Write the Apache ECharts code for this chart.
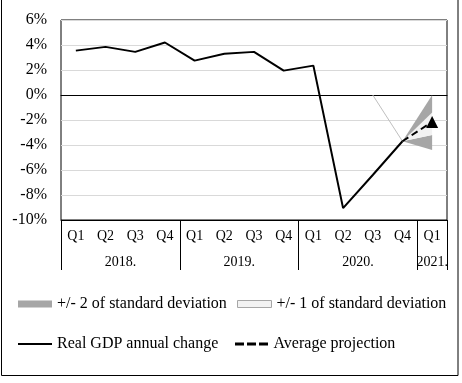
<!DOCTYPE html>
<html>
<head>
<meta charset="utf-8">
<script src="https://cdn.jsdelivr.net/npm/echarts@6/dist/echarts.min.js"></script>
<style>
html,body{margin:0;padding:0;background:#fff;}
#chart{width:462px;height:383px;}
</style>
</head>
<body>
<div id="chart"></div>
<script>
// ---- data ----
var quarters = ['Q1','Q2','Q3','Q4','Q1','Q2','Q3','Q4','Q1','Q2','Q3','Q4','Q1'];
var yearSlots = ['','','','','2018.','','','','','','','','2019.','','','','','','','','2020.','','','','','2021.',''];
var yearBreaks = [0, 8, 16, 24, 26];
var yTicks = [-10, -8, -6, -4, -2, 0, 2, 4, 6];

var gdp        = [3.55, 3.85, 3.45, 4.2, 2.75, 3.3, 3.45, 1.95, 2.35, -9.05, -6.4, -3.7, null];
var projection = [null, null, null, null, null, null, null, null, null, null, null, -3.7, -2.15];
var guideLine  = [null, null, null, null, null, null, null, null, null, null, 0, -3.7, null];
// fan boundaries
var lower2 = [null, null, null, null, null, null, null, null, null, null, null, -3.7, -4.4];
var lower1 = [null, null, null, null, null, null, null, null, null, null, null, -3.7, -3.2];
var upper1 = [null, null, null, null, null, null, null, null, null, null, null, -3.7, -1.4];
var upper2 = [null, null, null, null, null, null, null, null, null, null, null, -3.7, 0];

function diff(a, b) {
  return a.map(function (v, i) { return (v == null || b[i] == null) ? null : +(v - b[i]).toFixed(4); });
}

var FONT = 'Liberation Serif';
var NAME2 = '+/- 2 of standard deviation';
var NAME1 = '+/- 1 of standard deviation';
var NAMEG = 'Real GDP annual change';
var NAMEP = 'Average projection';
var DARK = '#a6a6a6', LIGHT = '#f2f2f2';

var chart = echarts.init(document.getElementById('chart'));
var legendText = {fontFamily: FONT, fontSize: 16, color: '#000'};
function leg(name, left, top, h, extra) {
  var d = {name: name};
  if (extra) for (var k in extra) d[k] = extra[k];
  return {left: left, top: top, padding: 0, itemWidth: 34, itemHeight: h, itemGap: 0,
          textStyle: legendText, data: [d], selectedMode: false};
}
chart.setOption({
  animation: false,
  backgroundColor: '#fff',
  graphic: [{type: 'rect', shape: {x: 1.5, y: -1, width: 456.5, height: 376.5},
             style: {fill: 'none', stroke: '#000', lineWidth: 1}, silent: true}],
  legend: [
    leg(NAME2, 18, 296, 7, {icon: 'rect', itemStyle: {color: DARK}}),
    leg(NAME1, 237, 296, 7, {icon: 'rect', itemStyle: {color: LIGHT, borderColor: '#a6a6a6', borderWidth: 1}}),
    leg(NAMEG, 18, 336, 2, {icon: 'path://M0,0H34V2H0Z', itemStyle: {color: '#000'}}),
    leg(NAMEP, 235, 336, 3, {icon: 'path://M0,0h9v3h-9zM12,0h9v3h-9zM24,0h9v3h-9z', itemStyle: {color: '#000'}})
  ],
  grid: {left: 61, top: 20, width: 386, height: 200, show: true, borderColor: '#000', borderWidth: 1},
  xAxis: [
    {type: 'category', data: quarters, position: 'bottom',
     axisLine: {onZero: true, lineStyle: {color: '#000', width: 1}},
     axisTick: {length: 4, interval: 0, lineStyle: {color: '#000'}},
     axisLabel: {show: false}, splitLine: {show: false}},
    {type: 'category', data: quarters, position: 'bottom', offset: 0,
     axisLine: {onZero: false, lineStyle: {color: '#000', width: 1}},
     axisTick: {length: 30, interval: 0, lineStyle: {color: '#000'}},
     axisLabel: {interval: 0, margin: 9, fontFamily: FONT, fontSize: 14, color: '#000'},
     splitLine: {show: false}},
    {type: 'category', data: yearSlots, position: 'bottom', offset: 0, boundaryGap: false,
     axisLine: {show: false, onZero: false},
     axisTick: {length: 50, lineStyle: {color: '#000'},
                interval: function (i) { return yearBreaks.indexOf(i) >= 0; }},
     axisLabel: {interval: 0, margin: 35, fontFamily: FONT, fontSize: 14, color: '#000'},
     splitLine: {show: false}}
  ],
  yAxis: {type: 'value', min: yTicks[0], max: yTicks[yTicks.length - 1], interval: 2,
          axisLine: {show: false}, axisTick: {show: false},
          axisLabel: {margin: 14, fontFamily: FONT, fontSize: 16, color: '#000',
                      formatter: function (v) { return v + '%'; }},
          splitLine: {lineStyle: {color: '#d9d9d9', width: 1}}},
  series: [
    {name: 'base', type: 'line', stack: 'fan', stackStrategy: 'all', data: lower2,
     symbol: 'none', lineStyle: {opacity: 0, width: 0}, silent: true, z: 1},
    {name: NAME2, type: 'line', stack: 'fan', stackStrategy: 'all', data: diff(lower1, lower2),
     symbol: 'none', color: DARK, lineStyle: {width: 0, opacity: 0}, areaStyle: {color: DARK, opacity: 1}, z: 1},
    {name: NAME1, type: 'line', stack: 'fan', stackStrategy: 'all', data: diff(upper1, lower1),
     symbol: 'none', color: LIGHT, lineStyle: {width: 0, opacity: 0}, areaStyle: {color: LIGHT, opacity: 1}, z: 1},
    {name: NAME2, type: 'line', stack: 'fan', stackStrategy: 'all', data: diff(upper2, upper1),
     symbol: 'none', color: DARK, lineStyle: {width: 0, opacity: 0}, areaStyle: {color: DARK, opacity: 1}, z: 1},
    {name: 'guide', type: 'line', data: guideLine, symbol: 'none', silent: true,
     lineStyle: {color: '#bfbfbf', width: 1}, z: 2},
    {name: NAMEG, type: 'line', data: gdp, symbol: 'none', color: '#000',
     lineStyle: {color: '#000', width: 2}, z: 3},
    {name: NAMEP, type: 'line', data: projection.map(function (v, i) {
        return (i === projection.length - 1) ? {value: v, symbol: 'triangle', symbolSize: 12} : v; }),
     symbol: 'none', showAllSymbol: true, color: '#000',
     itemStyle: {color: '#000'},
     lineStyle: {color: '#000', width: 2, type: [7, 4]}, z: 4}
  ]
});
</script>
</body>
</html>
